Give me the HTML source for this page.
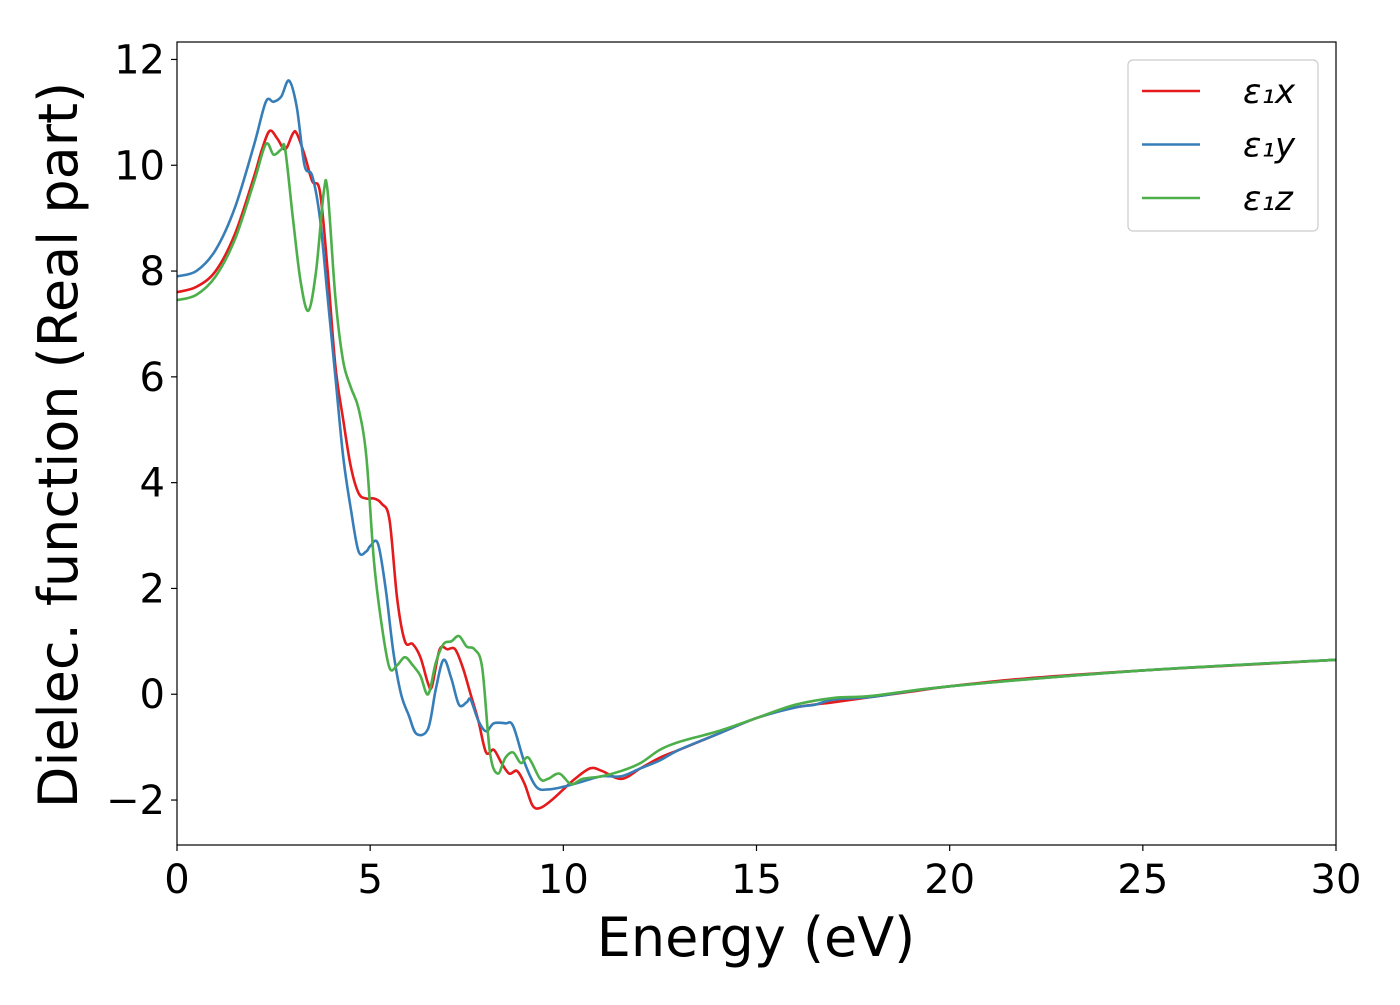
<!DOCTYPE html>
<html><head><meta charset="utf-8"><style>
html,body{margin:0;padding:0;background:#fff}
svg text{font-family:"DejaVu Sans","Liberation Sans",sans-serif;fill:#000}
</style></head><body>
<svg width="1400" height="1000" xmlns="http://www.w3.org/2000/svg">
<g id="plot"></g>
</svg>
<script>
const xTicks=[0,5,10,15,20,25,30];
const yTicks=[-2,0,2,4,6,8,10,12];
const seriesNames=["ε₁x","ε₁y","ε₁z"];
const redX=[0,0.5,1,1.5,2,2.2,2.4,2.6,2.8,3.0,3.1,3.3,3.5,3.7,3.9,4.1,4.3,4.5,4.7,4.9,5.1,5.3,5.5,5.7,5.9,6.1,6.3,6.5,6.6,6.8,7.0,7.2,7.4,7.6,7.8,8.0,8.2,8.4,8.6,8.8,9.0,9.2,9.4,9.7,10,10.3,10.7,11,11.5,12,12.5,13,14,15,16,17,18,19,20,22,25,28,30];
const redY=[7.6,7.7,8.0,8.7,9.8,10.3,10.65,10.5,10.3,10.6,10.6,10.2,9.7,9.5,8.0,6.2,5.2,4.3,3.8,3.7,3.7,3.6,3.3,1.8,1.0,0.95,0.7,0.2,0.15,0.85,0.85,0.85,0.5,0.0,-0.5,-1.1,-1.05,-1.3,-1.5,-1.45,-1.7,-2.1,-2.15,-2.0,-1.8,-1.6,-1.4,-1.45,-1.6,-1.4,-1.2,-1.05,-0.75,-0.45,-0.25,-0.15,-0.05,0.05,0.15,0.3,0.45,0.57,0.65];
const blueX=[0,0.5,1,1.5,2,2.3,2.5,2.7,2.9,3.1,3.3,3.5,3.7,3.9,4.1,4.3,4.5,4.7,4.9,5.0,5.2,5.4,5.6,5.8,6.0,6.2,6.5,6.7,6.9,7.1,7.3,7.5,7.6,7.8,8.0,8.2,8.5,8.7,9.0,9.3,9.6,10,10.5,11,11.5,12,12.5,13,14,15,16,16.5,17,18,20,25,30];
const blueY=[7.9,8.0,8.4,9.2,10.4,11.2,11.2,11.3,11.6,11.1,10.0,9.8,9.0,7.5,6.0,4.5,3.5,2.7,2.7,2.8,2.85,2.0,0.8,0.0,-0.4,-0.75,-0.65,0.1,0.65,0.3,-0.2,-0.15,-0.1,-0.5,-0.7,-0.55,-0.55,-0.6,-1.3,-1.75,-1.8,-1.75,-1.65,-1.55,-1.55,-1.4,-1.25,-1.05,-0.75,-0.45,-0.25,-0.2,-0.1,-0.05,0.15,0.45,0.65];
const greenX=[0,0.5,1,1.5,2,2.3,2.5,2.7,2.8,3.0,3.2,3.4,3.6,3.8,3.9,4.1,4.3,4.5,4.7,4.9,5.1,5.3,5.5,5.7,5.9,6.1,6.3,6.5,6.7,6.9,7.1,7.3,7.5,7.7,7.9,8.1,8.3,8.5,8.7,8.9,9.1,9.4,9.6,9.9,10.2,10.5,11,11.5,12,12.5,13,14,15,16,17,18,20,25,30];
const greenY=[7.45,7.55,7.9,8.6,9.7,10.4,10.2,10.3,10.3,9.0,7.8,7.25,8.0,9.5,9.5,7.5,6.3,5.8,5.4,4.5,2.5,1.3,0.5,0.55,0.7,0.55,0.35,0.0,0.6,0.95,1.0,1.1,0.9,0.85,0.5,-1.1,-1.5,-1.2,-1.1,-1.3,-1.2,-1.6,-1.6,-1.5,-1.7,-1.6,-1.55,-1.45,-1.3,-1.05,-0.9,-0.7,-0.45,-0.2,-0.07,-0.03,0.15,0.45,0.65];

const L=177,R=1336,T=42,B=845;
const xMin=0,xMax=30,yMin=-2.85,yMax=12.33;
const sx=v=>L+(v-xMin)/(xMax-xMin)*(R-L);
const sy=v=>B-(v-yMin)/(yMax-yMin)*(B-T);
const NS="http://www.w3.org/2000/svg";
const g=document.getElementById('plot');
function mk(tag,attrs){const e=document.createElementNS(NS,tag);for(const k in attrs)e.setAttribute(k,attrs[k]);g.appendChild(e);return e;}
function path(xs,ys){
  const p=xs.map((x,i)=>[sx(x),sy(ys[i])]);
  let d="M"+p[0][0]+","+p[0][1];
  for(let i=0;i<p.length-1;i++){
    const p0=p[Math.max(i-1,0)],p1=p[i],p2=p[i+1],p3=p[Math.min(i+2,p.length-1)];
    const c1=[p1[0]+(p2[0]-p0[0])/6,p1[1]+(p2[1]-p0[1])/6];
    const c2=[p2[0]-(p3[0]-p1[0])/6,p2[1]-(p3[1]-p1[1])/6];
    d+=" C"+c1+" "+c2+" "+p2;
  }
  return d;
}
const colors=["#e41a1c","#377eb8","#4daf4a"];
const data=[[redX,redY],[blueX,blueY],[greenX,greenY]];
const sNames=["series-e1x","series-e1y","series-e1z"];
data.forEach((s,i)=>{
  const e=mk('path',{d:path(s[0],s[1]),fill:'none',stroke:colors[i],'stroke-width':2.6,'stroke-linejoin':'round'});
  
  
});
const frame=mk('rect',{x:L,y:T,width:R-L,height:B-T,fill:'none',stroke:'#000','stroke-width':1.2});


xTicks.forEach(v=>{
  const t=mk('line',{x1:sx(v),x2:sx(v),y1:B,y2:B+6,stroke:'#000','stroke-width':1.2});
  
  
  const l=mk('text',{x:sx(v),y:B+48,'text-anchor':'middle','font-size':40});
  l.textContent=v;
  
  
});
yTicks.forEach(v=>{
  const t=mk('line',{x1:L-6,x2:L,y1:sy(v),y2:sy(v),stroke:'#000','stroke-width':1.2});
  
  
  const l=mk('text',{x:L-12,y:sy(v)+14,'text-anchor':'end','font-size':40});
  l.textContent=v<0?"−"+(-v):v;
  
  
});
const xl=mk('text',{x:756,y:956,'text-anchor':'middle','font-size':54});
xl.textContent="Energy (eV)";


const yl=mk('text',{x:0,y:0,'text-anchor':'middle','font-size':54,transform:'translate(77,445) rotate(-90)'});
yl.textContent="Dielec. function (Real part)";


const lb=mk('rect',{x:1128,y:60,width:190,height:171,rx:5,fill:'#fff',stroke:'#ccc','stroke-width':1.2});


seriesNames.forEach((n,i)=>{
  const y=91+i*53.5;
  const ln=mk('line',{x1:1142,x2:1200,y1:y,y2:y,stroke:colors[i],'stroke-width':2.6});
  
  
  const tx=mk('text',{x:1243,y:y+12,'font-size':34,'font-style':'italic'});
  tx.textContent=n;
  
  
});
</script>
</body></html>
